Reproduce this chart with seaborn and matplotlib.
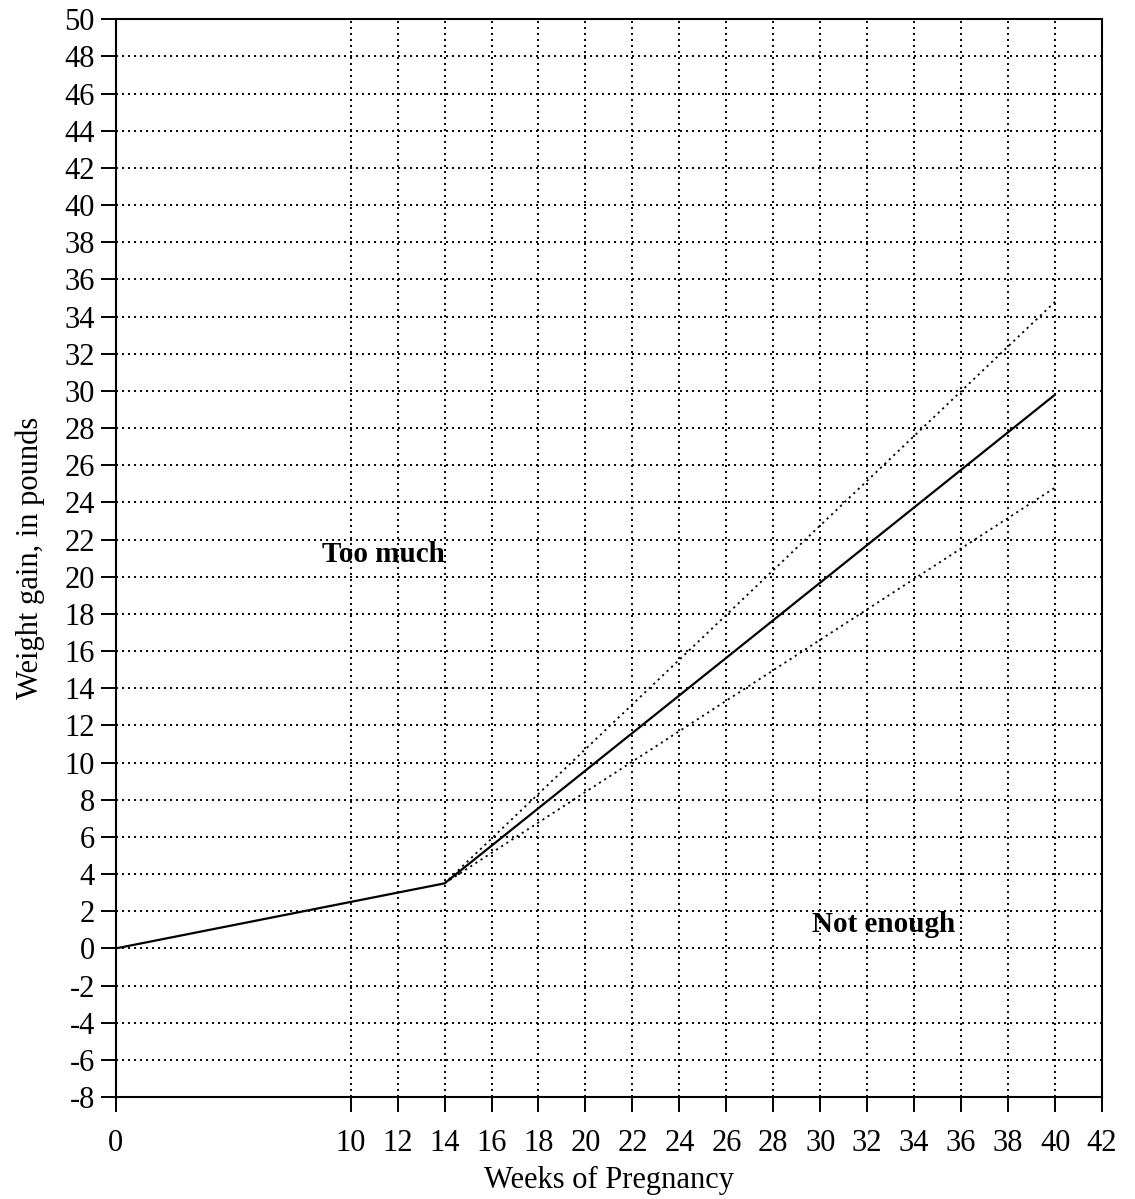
import matplotlib
matplotlib.use("Agg")
import matplotlib.pyplot as plt
import numpy as np
import pandas as pd
import seaborn as sns

# data
semanas = [0, 14, 40]
ganho_recomendado = [0, 3.5, 29.8]
semanas_faixa = [14, 40]
limite_superior = [3.5, 34.8]
limite_inferior = [3.5, 24.8]

ticks_x = [0] + list(range(10, 43, 2))
ticks_y = list(range(-8, 51, 2))

sns.set_style("white")
plt.rcParams['font.family'] = ['Liberation Serif', 'DejaVu Serif']
plt.rcParams['text.color'] = 'black'
plt.rcParams['axes.labelcolor'] = 'black'

fig = plt.figure(figsize=(11.35, 11.99), dpi=100)
ax = fig.add_axes([0.102, 0.085, 0.869, 0.899])

linha = pd.DataFrame({'semana': semanas, 'ganho': ganho_recomendado})
sns.lineplot(data=linha, x='semana', y='ganho', color='black', linewidth=1.6, ax=ax)

faixa = pd.DataFrame({'semana': semanas_faixa * 2,
                      'ganho': limite_superior + limite_inferior,
                      'limite': ['sup'] * 2 + ['inf'] * 2})
sns.lineplot(data=faixa, x='semana', y='ganho', units='limite', estimator=None,
             color='black', linewidth=1.3, dashes=False, ax=ax)
for l in ax.lines[1:]:
    l.set_dashes((1.2, 2.2))

ax.set_xlim(0, 42)
ax.set_ylim(-8, 50)
ax.set_xticks(ticks_x)
ax.set_yticks(ticks_y)
ax.set_xticklabels([str(t) for t in ticks_x])
ax.set_yticklabels([str(t) for t in ticks_y])

# grade pontilhada
for t in ticks_x:
    if 0 < t < 42:
        ax.axvline(t, color='black', linewidth=1.35, dashes=(1.1, 2.1), zorder=0)
for t in ticks_y:
    if -8 < t < 50:
        ax.axhline(t, color='black', linewidth=1.35, dashes=(1.1, 2.1), zorder=0)

for s in ax.spines.values():
    s.set_visible(True)
    s.set_color('black')
    s.set_linewidth(1.5)

ax.tick_params(axis='both', direction='out', length=11, width=1.4, colors='black',
               labelsize=22, bottom=True, left=True)
ax.tick_params(axis='x', pad=12)
ax.tick_params(axis='y', pad=4)

ax.set_xlabel('Weeks of Pregnancy', fontsize=22, labelpad=6)
ax.set_ylabel('Weight gain, in pounds', fontsize=22, labelpad=14)

ax.text(11.4, 21.2, 'Too much', fontsize=21, fontweight='bold', ha='center', va='center')
ax.text(32.7, 1.3, 'Not enough', fontsize=21, fontweight='bold', ha='center', va='center')

fig.savefig('out.png', dpi=100)
